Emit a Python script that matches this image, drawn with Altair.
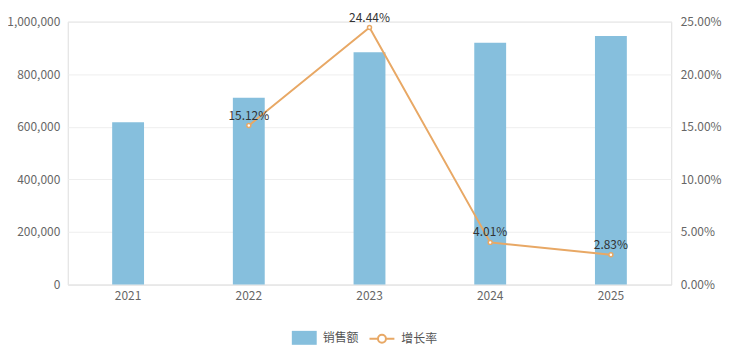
import altair as alt
import pandas as pd

years = ["2021", "2022", "2023", "2024", "2025"]
sales = [617000, 710300, 883900, 919300, 945300]
growth = [None, 15.12, 24.44, 4.01, 2.83]
growth_labels = ["", "15.12%", "24.44%", "4.01%", "2.83%"]

df = pd.DataFrame({
    "year": years,
    "sales": sales,
    "growth": growth,
    "label": growth_labels,
    "s1": ["销售额"] * 5,
    "s2": ["增长率"] * 5,
})
gdf = df.dropna(subset=["growth"])

FONT = "Noto Sans CJK SC"
BAR = "#86BFDD"
LINE = "#E8A865"

x = alt.X("year:N", title=None, sort=years,
          axis=alt.Axis(labelAngle=0, labelColor="#666", labelFontSize=12, labelPadding=6,
                        ticks=False, grid=False, domainColor="#e6e6e6", labelFont=FONT))

bars = alt.Chart(df).mark_bar(size=32, color=BAR).encode(
    x=x,
    y=alt.Y("sales:Q", title=None,
            scale=alt.Scale(domain=[0, 1000000], nice=False),
            axis=alt.Axis(values=[0, 200000, 400000, 600000, 800000, 1000000],
                          labelExpr="format(datum.value, ',.0f')",
                          labelColor="#666", labelFontSize=12, labelPadding=8, ticks=False,
                          domain=False, gridColor="#eeeeee", labelFont=FONT)),
    fill=alt.Fill("s1:N", scale=alt.Scale(domain=["销售额"], range=[BAR]),
                  legend=alt.Legend(title=None, orient="none", legendX=225, legendY=305,
                                    symbolType="M-1,-0.56H1V0.56H-1Z", symbolSize=625,
                                    symbolStrokeWidth=0, labelFontSize=12, labelColor="#555",
                                    labelFont=FONT, labelOffset=6)),
)

yg = alt.Y("growth:Q", title=None,
           scale=alt.Scale(domain=[0, 25], nice=False),
           axis=alt.Axis(orient="right", values=[0, 5, 10, 15, 20, 25],
                         labelExpr="format(datum.value, '.2f') + '%'",
                         labelColor="#666", labelFontSize=12, labelPadding=9, ticks=False,
                         domain=False, grid=False, labelFont=FONT))

line = alt.Chart(gdf).mark_line(color=LINE, strokeWidth=2).encode(
    x=x, y=yg,
    stroke=alt.Stroke("s2:N", scale=alt.Scale(domain=["增长率"], range=[LINE]),
                      legend=alt.Legend(title=None, orient="none", legendX=302, legendY=305,
                                        symbolType="M-1,0H-0.32M0.32,0H1M0.32,0A0.32,0.32 0 1,1 -0.32,0A0.32,0.32 0 1,1 0.32,0",
                                        symbolSize=625, symbolStrokeWidth=2, symbolFillColor="white",
                                        labelFontSize=12, labelColor="#555", labelFont=FONT,
                                        labelOffset=6)),
)

pts = alt.Chart(gdf).mark_point(shape="circle", filled=True, fill="white", stroke=LINE,
                                strokeWidth=1.5, size=16, opacity=1).encode(x=x, y=yg)

txt = alt.Chart(gdf).mark_text(dy=-10, fontSize=12, color="#333", font=FONT).encode(
    x=x, y=yg, text="label:N")

right = alt.layer(line, pts, txt)

chart = alt.layer(bars, right).resolve_scale(y="independent", fill="independent", stroke="independent").properties(
    width=606, height=264,
    autosize=alt.AutoSizeParams(type="none"),
    padding={"left": 60, "top": 13, "right": 60, "bottom": 60},
).configure_view(stroke="transparent", strokeWidth=0).configure_axisY(domain=False).configure(background="white")

chart.save("out.html", embed_options={"renderer": "svg", "actions": False})
